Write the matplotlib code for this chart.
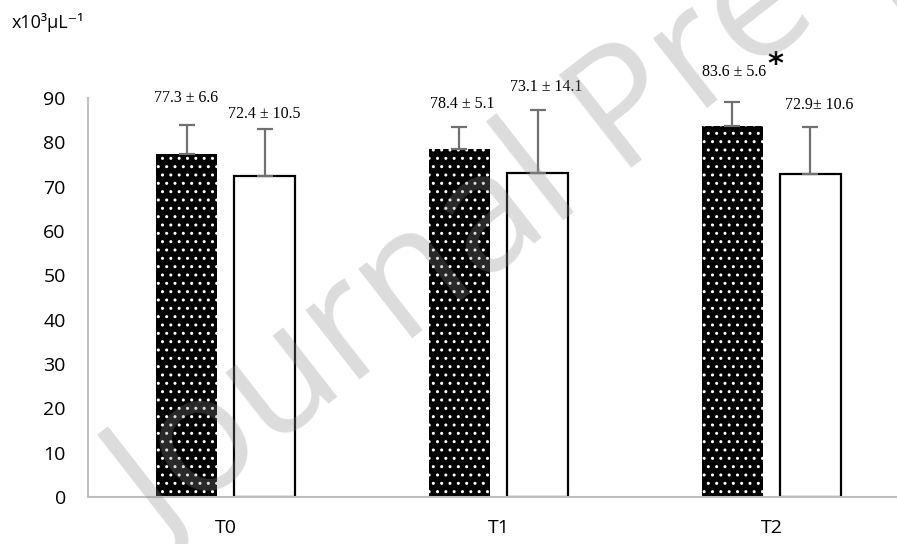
import matplotlib.pyplot as plt
import numpy as np

# --- Data ---
times = ["T0", "T1", "T2"]
group_a_mean = [77.3, 78.4, 83.6]
group_a_sd = [6.6, 5.1, 5.6]
group_b_mean = [72.4, 73.1, 72.9]
group_b_sd = [10.5, 14.1, 10.6]
group_a_labels = ["77.3 \u00b1 6.6", "78.4 \u00b1 5.1", "83.6 \u00b1 5.6"]
group_b_labels = ["72.4 \u00b1 10.5", "73.1 \u00b1 14.1", "72.9\u00b1 10.6"]

# label offsets from the error-bar tops (points)
a_label_off = [(0, 19.5), (2, 16.5), (1.5, 21.5)]
b_label_off = [(0, 11.5), (6, 16.5), (6, 16)]

plt.rcParams['font.family'] = ['Open Sans', 'DejaVu Sans']

fig = plt.figure(figsize=(8.97, 5.44), dpi=100)
ax = fig.add_axes([88 / 897, 47 / 544, 809 / 897, 399 / 544])

x = np.arange(len(times))
w = 0.225
off = 0.143
err_kw = dict(ecolor='#707070', elinewidth=1.6, capsize=6, capthick=1.6)

# dotted bars: black fill with a white dot hatch on top
ax.bar(x - off, group_a_mean, w, color='black', linewidth=0, zorder=2)
ax.bar(x - off, group_a_mean, w, facecolor='none', edgecolor='white',
       hatch='..', linewidth=0, zorder=3)
ax.errorbar(x - off, group_a_mean, yerr=[np.zeros(3), group_a_sd],
            fmt='none', zorder=4, **err_kw)

# open bars
ax.bar(x + off, group_b_mean, w, facecolor='white', edgecolor='black',
       linewidth=1.6, zorder=2)
ax.errorbar(x + off, group_b_mean, yerr=[np.zeros(3), group_b_sd],
            fmt='none', zorder=4, **err_kw)

lab_font = dict(family='Liberation Serif', fontsize=11.5, ha='center', va='center')
for i in range(len(times)):
    ax.annotate(group_a_labels[i], (x[i] - off, group_a_mean[i] + group_a_sd[i]),
                xytext=a_label_off[i], textcoords='offset points', **lab_font)
    ax.annotate(group_b_labels[i], (x[i] + off, group_b_mean[i] + group_b_sd[i]),
                xytext=b_label_off[i], textcoords='offset points', **lab_font)

# significance mark for T2
ax.annotate("*", (x[2] - off, group_a_mean[2] + group_a_sd[2]),
            xytext=(31, 27), textcoords='offset points', ha='center', va='center',
            fontsize=22, family='DejaVu Sans', fontweight='bold')

ax.set_xlim(-0.504, 2.46)
ax.set_ylim(0, 90)
ax.set_yticks(np.arange(0, 91, 10))
ax.set_xticks(x)
ax.set_xticklabels(times)
ax.tick_params(axis='both', length=0, labelsize=14)
ax.tick_params(axis='y', pad=16)
ax.tick_params(axis='x', pad=16)
for s in ['top', 'right']:
    ax.spines[s].set_visible(False)
ax.spines['left'].set_color('#bfbfbf')
ax.spines['bottom'].set_color('#bfbfbf')
ax.spines['left'].set_linewidth(1.5)
ax.spines['bottom'].set_linewidth(1.5)

fig.text(12 / 897, 1 - 22 / 544, "x10\u00b3\u00b5L\u207b\u00b9", fontsize=13,
         va='center', ha='left')

# watermark
fig.text(160 / 897, 1 - 545 / 544, "Journal Pre-proof", fontsize=118,
         rotation=38, color='#8c8c8c', alpha=0.3, ha='left', va='baseline',
         family='Open Sans', zorder=10, rotation_mode='anchor')

fig.savefig("out.png", dpi=100)
